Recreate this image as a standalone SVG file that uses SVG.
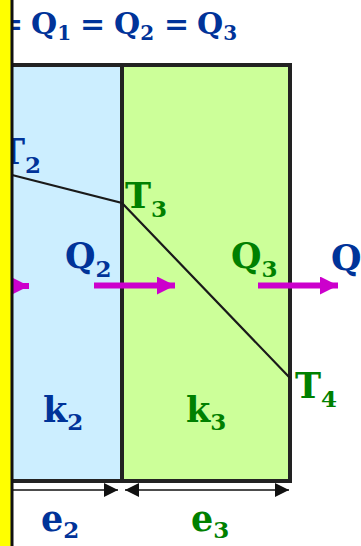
<svg xmlns="http://www.w3.org/2000/svg" width="361" height="546" viewBox="0 0 361 546">
<style>
text{font-family:"DejaVu Serif","Liberation Serif",serif;font-weight:bold}
.b{fill:#003399}.g{fill:#008000}
.L{font-size:35px}.s{font-size:23px}
.H{font-size:30px}.hs{font-size:20px}
.flow{stroke:#cc00cc;stroke-width:6;fill:none}
.dim{stroke:#111;stroke-width:1.5;fill:none}
</style>
<defs>
<marker id="mh" markerUnits="userSpaceOnUse" viewBox="0 0 18 18" refX="18" refY="9" markerWidth="18" markerHeight="18" orient="auto"><path d="M0,0L18,9L0,18z" fill="#cc00cc"/></marker>
<marker id="dh" markerUnits="userSpaceOnUse" viewBox="0 0 14 14" refX="14" refY="7" markerWidth="14" markerHeight="14" orient="auto-start-reverse"><path d="M0,0L14,7L0,14z" fill="#111"/></marker>
</defs>
<rect width="361" height="546" fill="#fff"/>
<g id="layer2"><rect x="12" y="65" width="110" height="416" fill="#cceeff"/></g>
<g id="layer3"><rect x="122" y="65" width="168" height="416" fill="#ccff99"/></g>
<g id="walls" stroke="#222" stroke-width="4" fill="none">
<path d="M12,65H290V481H12"/>
<path d="M122,65V481"/>
</g>
<g id="connectors">
<path d="M12,175L122,203L290,378" stroke="#1a1a1a" stroke-width="2.2" fill="none"/>
<path class="flow" d="M0,286H29" marker-end="url(#mh)"/>
<path class="flow" d="M94,285.5H175" marker-end="url(#mh)"/>
<path class="flow" d="M258,285.5H338" marker-end="url(#mh)"/>
<path class="dim" d="M12,490H118" marker-end="url(#dh)"/>
<path class="dim" d="M125,490H289" marker-start="url(#dh)" marker-end="url(#dh)"/>
</g>
<g id="header"><text class="H b" y="34"><tspan x="-2">=</tspan><tspan x="31">Q</tspan><tspan class="hs" dy="6">1</tspan><tspan x="80" dy="-6">=</tspan><tspan x="114">Q</tspan><tspan class="hs" dy="6">2</tspan><tspan x="164" dy="-6">=</tspan><tspan x="197">Q</tspan><tspan class="hs" dy="6">3</tspan></text></g>
<g id="T2"><text class="L b" x="-1" y="164">T<tspan class="s" dy="9">2</tspan></text></g>
<g id="T3"><text class="L g" x="125" y="208">T<tspan class="s" dy="9">3</tspan></text></g>
<g id="T4"><text class="L g" x="295" y="398">T<tspan class="s" dy="9">4</tspan></text></g>
<g id="Q2"><text class="L b" x="65" y="268">Q<tspan class="s" dy="9">2</tspan></text></g>
<g id="Q3"><text class="L g" x="231" y="268">Q<tspan class="s" dy="9">3</tspan></text></g>
<g id="Q"><text class="L b" x="331" y="270">Q</text></g>
<g id="k2"><text class="L b" x="43" y="422">k<tspan class="s" dy="8">2</tspan></text></g>
<g id="k3"><text class="L g" x="186" y="422">k<tspan class="s" dy="8">3</tspan></text></g>
<g id="e2"><text class="L b" x="41" y="531">e<tspan class="s" dy="7">2</tspan></text></g>
<g id="e3"><text class="L g" x="191" y="531">e<tspan class="s" dy="7">3</tspan></text></g>
<g id="wall1"><rect x="0" y="0" width="11" height="546" fill="#ffff00"/><path d="M12,0V546" stroke="#111" stroke-width="3"/></g>
</svg>
